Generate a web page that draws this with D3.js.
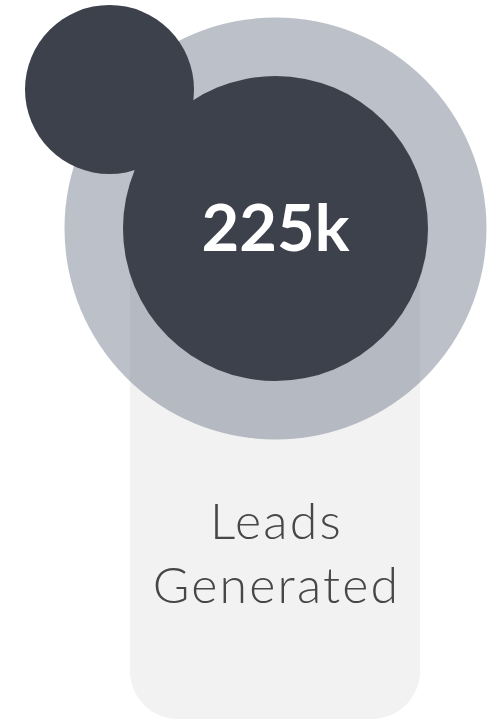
<!DOCTYPE html>
<html lang="en">
<head>
    <meta charset="UTF-8">
    <title>Leads Generated</title>
    <script src="https://d3js.org/d3.v7.min.js"></script>
    <style>
        body { margin: 0; background: #fff; }
        svg { display: block; }
    </style>
</head>
<body>
    <svg id="chart" width="487" height="720"></svg>
    <script>
        // values
        const kpiValue = ["225k"];
        const kpiLabel = ["Leads", "Generated"];

        const svg = d3.select("#chart");
        const cx = 275.5, cy = 228.5;

        // card behind the bubbles
        svg.append("rect")
            .attr("x", 130)
            .attr("y", cy)
            .attr("width", 290)
            .attr("height", 719 - cy)
            .attr("rx", 48)
            .attr("fill", "#f2f2f2");

        // halo ring (semi-transparent)
        svg.append("circle")
            .attr("cx", cx)
            .attr("cy", cy)
            .attr("r", 211)
            .attr("fill", "#6b7385")
            .attr("fill-opacity", 0.45);

        // main bubble
        svg.append("circle")
            .attr("cx", cx)
            .attr("cy", cy)
            .attr("r", 152.5)
            .attr("fill", "#3d414b");

        // small bubble top-left
        svg.append("circle")
            .attr("cx", 109.5)
            .attr("cy", 89.5)
            .attr("r", 84.5)
            .attr("fill", "#3d414b");

        svg.append("text")
            .attr("x", cx)
            .attr("y", 251)
            .attr("text-anchor", "middle")
            .attr("fill", "#fff")
            .style("font-family", "Lato, 'Open Sans', sans-serif")
            .style("font-weight", 700)
            .style("font-size", "65px")
            .text(kpiValue[0]);

        svg.selectAll(".label")
            .data(kpiLabel)
            .enter().append("text")
            .attr("class", "label")
            .attr("x", cx + 1)
            .attr("y", (d, i) => 539 + i * 64)
            .attr("text-anchor", "middle")
            .attr("fill", "#474747")
            .style("font-family", "Lato, 'Open Sans', sans-serif")
            .style("font-weight", 300)
            .style("font-size", "50px")
            .style("letter-spacing", "2.2px")
            .text(d => d);
    </script>
</body>
</html>
